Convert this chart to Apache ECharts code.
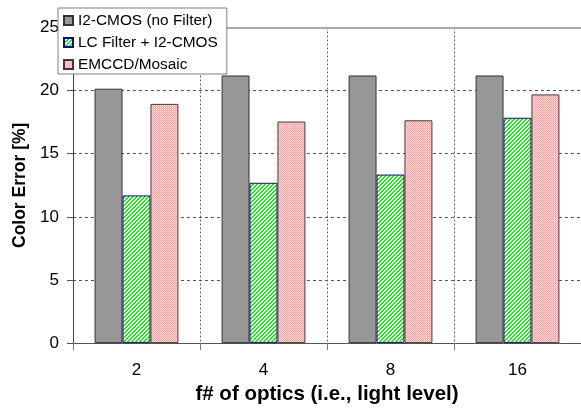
<!DOCTYPE html>
<html>
<head>
<meta charset="utf-8">
<script src="https://cdn.jsdelivr.net/npm/echarts@6/dist/echarts.min.js"></script>
<style>html,body{margin:0;padding:0;background:#fff}#c{width:581px;height:410px}</style>
</head>
<body>
<div id="c"></div>
<script>
const categories = ['2', '4', '8', '16'];
const seriesNames = ['I2-CMOS (no Filter)', 'LC Filter + I2-CMOS', 'EMCCD/Mosaic'];
const noFilter = [20.15, 21.2, 21.2, 21.2];
const lcFilter = [11.7, 12.7, 13.35, 17.85];
const emccd = [18.95, 17.55, 17.65, 19.7];
const yTicks = [0, 5, 10, 15, 20, 25];

function stripePattern() {
  const c = document.createElement('canvas');
  c.width = 4; c.height = 4;
  const g = c.getContext('2d');
  g.fillStyle = '#ffffff'; g.fillRect(0, 0, 4, 4);
  g.fillStyle = '#22e622';
  for (let x = 0; x < 4; x++) for (let y = 0; y < 4; y++) {
    const k = (x + y) % 4;
    if (k === 0 || k === 1) g.fillRect(x, y, 1, 1);
  }
  return { image: c, repeat: 'repeat' };
}
function checkPattern() {
  const c = document.createElement('canvas');
  c.width = 2; c.height = 2;
  const g = c.getContext('2d');
  g.fillStyle = '#ffa8a8'; g.fillRect(0, 0, 2, 2);
  g.fillStyle = '#ffd4d4'; g.fillRect(1, 0, 1, 1); g.fillRect(0, 1, 1, 1);
  return { image: c, repeat: 'repeat' };
}

const font = 'Liberation Sans, Arial, sans-serif';
const chart = echarts.init(document.getElementById('c'), null, { renderer: 'canvas' });
chart.setOption({
  animation: false,
  textStyle: { fontFamily: font },
  grid: { left: 73, top: 27.5, width: 516, height: 318.5, containLabel: false },
  legend: {
    orient: 'vertical', left: 58, top: 8,
    padding: [5, 9, 2, 5], itemGap: 7,
    itemWidth: 9, itemHeight: 9, icon: 'rect',
    backgroundColor: '#ffffff', borderColor: '#808080', borderWidth: 1,
    textStyle: { fontSize: 15.4, color: '#000', fontFamily: font },
    data: seriesNames,
    z: 10
  },
  xAxis: [{
    type: 'category', data: categories,
    name: 'f# of optics (i.e., light level)', nameLocation: 'middle', nameGap: 40.5,
    nameTextStyle: { fontSize: 20.5, fontWeight: 'bold', color: '#000', fontFamily: font },
    axisLine: { lineStyle: { color: '#555', width: 1 } },
    axisTick: { show: true, length: 7, lineStyle: { color: '#777' } },
    axisLabel: { fontSize: 17, color: '#000', margin: 19, fontFamily: font },
    splitLine: { show: true, lineStyle: { color: '#666', type: [2, 2], width: 1 } }
  }, {
    type: 'category', data: categories, position: 'top', z: 5,
    axisLine: { show: true, lineStyle: { color: '#aaaaaa', width: 2 } },
    axisTick: { show: false }, axisLabel: { show: false }, splitLine: { show: false }
  }],
  yAxis: {
    type: 'value', min: yTicks[0], max: yTicks[yTicks.length - 1], interval: 5,
    name: 'Color Error [%]', nameLocation: 'middle', nameGap: 41, nameRotate: 90,
    nameTextStyle: { fontSize: 17.5, fontWeight: 'bold', color: '#000', fontFamily: font },
    axisLine: { show: true, lineStyle: { color: '#444', width: 1 } },
    axisTick: { show: true, length: 6, lineStyle: { color: '#555' } },
    axisLabel: { fontSize: 17, color: '#000', margin: 14, fontFamily: font },
    splitLine: { show: true, showMaxLine: false, lineStyle: { color: '#555', type: [3, 3], width: 1 } }
  },
  series: [
    { name: seriesNames[0], type: 'bar', data: noFilter, barGap: '0%', barCategoryGap: '34%',
      itemStyle: { color: '#979797', borderColor: '#333', borderWidth: 1 } },
    { name: seriesNames[1], type: 'bar', data: lcFilter, barGap: '0%', barCategoryGap: '34%',
      itemStyle: { color: stripePattern(), borderColor: '#101070', borderWidth: 1 } },
    { name: seriesNames[2], type: 'bar', data: emccd, barGap: '0%', barCategoryGap: '34%',
      itemStyle: { color: checkPattern(), borderColor: '#4a3535', borderWidth: 1 } }
  ]
});
</script>
</body>
</html>
